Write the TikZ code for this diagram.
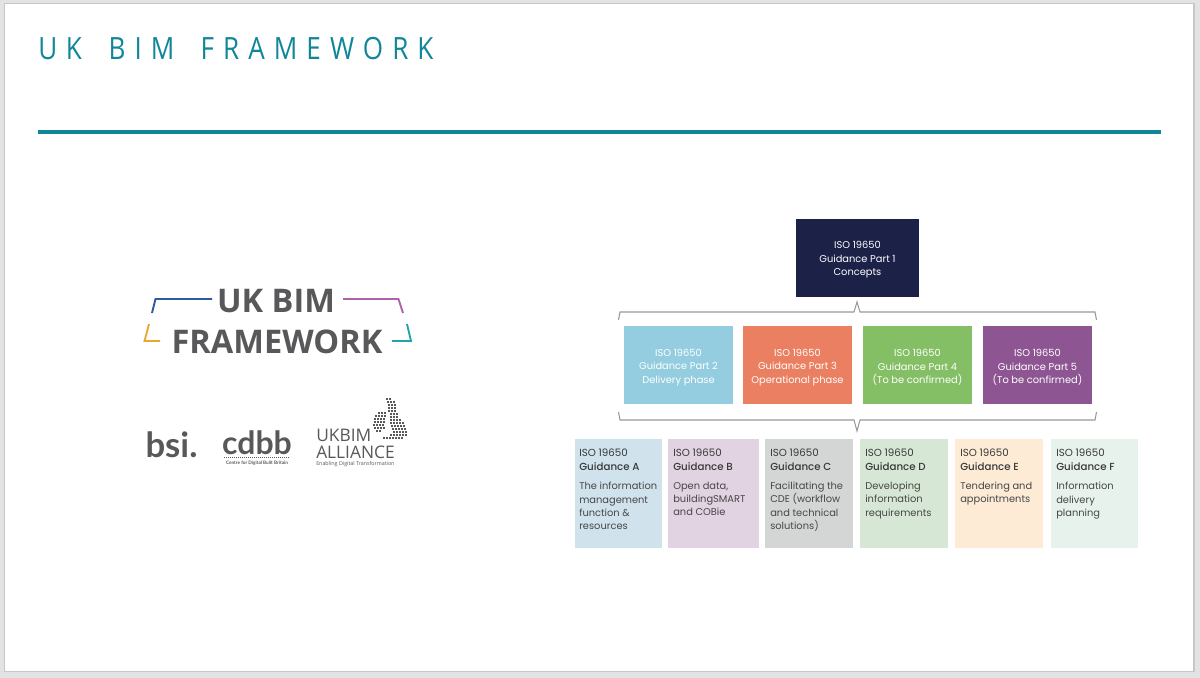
\documentclass[tikz,border=0pt]{standalone}
\usepackage{fontspec}
\usetikzlibrary{positioning}
\setmainfont{Poppins}[BoldFont={Poppins Medium}]
\newfontfamily\titlefont[LetterSpace=29.5,FakeStretch=0.85]{Open Sans}
\newfontfamily\logofont{Open Sans}[BoldFont={Open Sans Bold}]
\newfontfamily\smalllogofont{Lato}[BoldFont={Lato Bold}]
\newcommand\partpad{\rule{0pt}{9.2pt}}
\definecolor{teal}{HTML}{0F8799}
\definecolor{logogrey}{HTML}{58585A}
\definecolor{logoblue}{HTML}{2B5C9E}
\definecolor{logopurple}{HTML}{B060A8}
\definecolor{logoorange}{HTML}{E8A632}
\definecolor{logoteal}{HTML}{1FA3AD}
\definecolor{navy}{HTML}{1B2147}
\definecolor{partblue}{HTML}{93CDDF}
\definecolor{partred}{HTML}{EA7F62}
\definecolor{partgreen}{HTML}{84BF65}
\definecolor{partpurple}{HTML}{8E5593}
\definecolor{guideA}{HTML}{D0E2EC}
\definecolor{guideB}{HTML}{E2D3E3}
\definecolor{guideC}{HTML}{D4D6D5}
\definecolor{guideD}{HTML}{D6E8D5}
\definecolor{guideE}{HTML}{FDEBD6}
\definecolor{guideF}{HTML}{E7F2EC}
\tikzset{
  partbox/.style={minimum width=81.75pt,minimum height=58.5pt,inner sep=0pt,outer sep=0pt,text=white,align=center,
    font=\fontsize{7.4}{10.1}\selectfont},
  guidehead/.style={anchor=north west,inner sep=0pt,text=black!78,align=left,font=\fontsize{7.7}{10.3}\selectfont},
  guidetext/.style={anchor=north west,inner sep=0pt,text=black!72,align=left,font=\fontsize{7.4}{9.9}\selectfont},
  bracket/.style={draw=black!40,line width=0.8pt},
  logostroke/.style={line width=1.4pt},
}
\begin{document}
\begin{tikzpicture}[x=0.75pt,y=-0.75pt]
  \useasboundingbox (0,0) rectangle (1200,678);
  \fill[black!11] (0,0) rectangle (1200,678);
  \draw[black!22,fill=white,line width=0.8pt] (4.5,3.5) rectangle (1194,671.5);
  % title
  \node[anchor=base west,inner sep=0pt,text=teal,font=\titlefont\fontsize{23}{23}\selectfont] (title) at (38,59) {U\hspace{6.5pt}K\hspace{20pt}BIM\hspace{19.75pt}FRAMEWORK};
  \fill[teal] (38,130) rectangle (1161,134);
  % logo
  \node[anchor=base,inner sep=0pt,text=logogrey,font=\logofont\bfseries\fontsize{24.4}{24.4}\selectfont] (uk) at (276,312) {UK BIM};
  \node[anchor=base,inner sep=0pt,text=logogrey,font=\logofont\bfseries\fontsize{24.4}{24.4}\selectfont] (framework) at (277,353) {FRAMEWORK};
  \draw[logostroke,logoblue] (152,313) -- (155.5,299) -- (212,299);
  \draw[logostroke,logopurple] (343,299) -- (398.5,299) -- (403,313);
  \draw[logostroke,logoorange] (149,324) -- (144.5,341) -- (160,341);
  \draw[logostroke,logoteal] (407,324) -- (411,341) -- (392,341);
  % small logos
  \node[anchor=base,inner sep=0pt,text=logogrey,font=\smalllogofont\bfseries\fontsize{26}{26}\selectfont] (bsi) at (171.5,457) {bsi.};
  \node[anchor=base,inner sep=0pt,text=logogrey,font=\smalllogofont\bfseries\fontsize{24}{24}\selectfont] (cdbb) at (257,454) {cdbb};
  \draw[logogrey,line width=0.5pt,densely dotted] (224,457.5) -- (290,457.5);
  \node[anchor=base,inner sep=0pt,text=logogrey,font=\smalllogofont\bfseries\fontsize{3.5}{4}\selectfont] (cdbbsub) at (257,464) {Centre for Digital Built Britain};
  \node[anchor=base west,inner sep=0pt,text=logogrey,font=\logofont\fontsize{13}{13}\selectfont] (ukbim) at (316,441.5) {UKBIM};
  \node[anchor=base west,inner sep=0pt,text=logogrey,font=\logofont\fontsize{13}{13}\selectfont] (alliance) at (316,458) {ALLIANCE};
  \node[anchor=base west,inner sep=0pt,text=logogrey,font=\logofont\fontsize{4}{4}\selectfont] (enabling) at (316,465) {Enabling Digital Transformation};
  % dotted map
  \foreach \yy/\xa/\cnt in {398/386/2,401/387/3,404/388/3,407/388/3,410/388/3,413/390/3,416/390/3,419/390/4,422/390/5,425/391/5,428/392/5,431/393/5,434/390/6,437/383/7,
      412/378/3,415/375/4,418/374/4,421/374/4,424/373/4,427/374/4,430/376/2}
    \foreach \nn in {1,...,\cnt}
      \fill[logogrey] ({\xa+3*(\nn-1)},\yy) rectangle ++(2.2,2.2);
  % part boxes
  \node[partbox,fill=navy,minimum width=92.25pt] (part1) at (857.5,257.5) {\partpad ISO 19650\\Guidance Part 1\\Concepts};
  \node[partbox,fill=partblue] (part2) at (678.5,365) {\partpad ISO 19650\\Guidance Part 2\\Delivery phase};
  \node[partbox,fill=partred,right=7.5pt of part2] (part3) {\partpad ISO 19650\\Guidance Part 3\\Operational phase};
  \node[partbox,fill=partgreen,right=8.25pt of part3] (part4) {\partpad ISO 19650\\Guidance Part 4\\(To be confirmed)};
  \node[partbox,fill=partpurple,right=8.25pt of part4] (part5) {\partpad ISO 19650\\Guidance Part 5\\(To be confirmed)};
  % brackets
  \coordinate (tip1) at (857,302);
  \coordinate (tip2) at (857,431);
  \draw[bracket] (618.5,320) -- (620,312) -- (854,312) -- (tip1) -- (860,312) -- (1095,312) -- (1096.5,320);
  \draw[bracket] (618.5,412) -- (620,420) -- (854,420) -- (tip2) -- (860,420) -- (1095,420) -- (1096.5,412);
  % guidance boxes
  \fill[guideA] (575,439) rectangle (662,548);
  \fill[guideB] (668,439) rectangle (759,548);
  \fill[guideC] (765,439) rectangle (853,548);
  \fill[guideD] (860,439) rectangle (948,548);
  \fill[guideE] (955,439) rectangle (1043,548);
  \fill[guideF] (1051,439) rectangle (1138,548);
  \foreach \gname/\xx/\gtxt/\gbody in {a/579/A/{The information\\management\\function \&\\resources},
      b/673/B/{Open data,\\buildingSMART\\and COBie},
      c/770/C/{Facilitating the\\CDE (workflow\\and technical\\solutions)},
      d/865/D/{Developing\\information\\requirements},
      e/960/E/{Tendering and\\appointments},
      f/1056/F/{Information\\delivery\\planning}}{
    \node[guidehead] (head\gname) at (\xx,449) {ISO 19650\\\textbf{Guidance \gtxt}};
    \node[guidetext] (body\gname) at (\xx,482) {\gbody};
  }
\end{tikzpicture}
\end{document}
